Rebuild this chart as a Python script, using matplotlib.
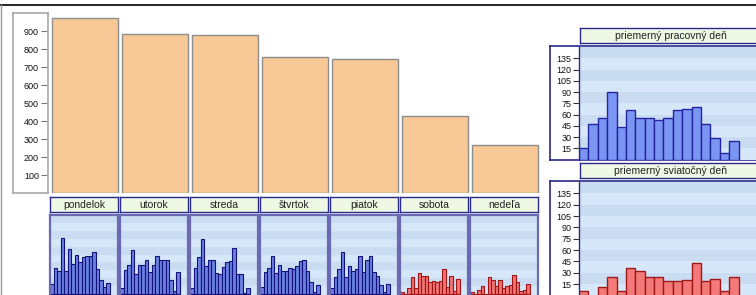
import matplotlib
matplotlib.use('Agg')
import matplotlib.pyplot as plt
from matplotlib.lines import Line2D

plt.rcParams['font.family'] = ['Liberation Sans', 'DejaVu Sans']

# data
dni = ['pondelok', 'utorok', 'streda', 'štvrtok', 'piatok', 'sobota', 'nedeľa']
spolu = [973, 882, 880, 754, 745, 429, 266]

pondelok = [18, 50, 44, 107, 44, 85, 57, 75, 61, 70, 72, 72, 79, 48, 26, 14, 20]
utorok = [12, 46, 56, 83, 38, 56, 56, 65, 41, 56, 72, 65, 65, 65, 26, 5, 41]
streda = [12, 50, 70, 104, 54, 65, 65, 40, 38, 52, 61, 63, 88, 38, 38, 1, 12]
stvrtok = [14, 41, 50, 72, 39, 56, 44, 44, 50, 48, 54, 63, 64, 43, 23, 3, 17]
piatok = [12, 32, 48, 79, 32, 54, 44, 48, 72, 41, 64, 73, 41, 34, 17, 3, 19]
sobota = [4, 0, 12, 32, 12, 40, 35, 34, 22, 24, 22, 24, 48, 14, 34, 6, 28]
nedela = [3, 0, 8, 15, 0, 33, 27, 15, 27, 12, 15, 16, 36, 23, 5, 7, 19]
hodiny_dni = [pondelok, utorok, streda, stvrtok, piatok, sobota, nedela]

pracovny = [16, 47, 55, 90, 44, 66, 56, 56, 53, 56, 66, 68, 70, 48, 29, 9, 25]
sviatocny = [6, 0, 11.5, 25, 6, 37, 32, 25, 25, 19.5, 19.5, 21, 43, 19.5, 22, 6, 25]

W, H = 756, 295
fig = plt.figure(figsize=(W/100, H/100), dpi=100)

def fr(x0, y0, x1, y1):
    return [x0/W, 1 - y1/H, (x1 - x0)/W, (y1 - y0)/H]

BORDER = '#2a2a8c'
ZELENA = '#eff8e4'

def pruhy(ax):
    ax.set_facecolor('#d6e7f9')
    for k in range(10):
        if k % 2 == 1:
            ax.axhspan(15*k, 15*k + 15, color='#cadcf1', lw=0, zorder=0)

def stitok(x0, y0, x1, y1, text):
    a = fig.add_axes(fr(x0, y0, x1, y1))
    a.set_facecolor(ZELENA)
    a.set_xticks([]); a.set_yticks([])
    for s in a.spines.values():
        s.set_color(BORDER); s.set_linewidth(1)
    a.text(0.5, 0.45, text, ha='center', va='center', fontsize=7.5,
           color='#222222', transform=a.transAxes)
    return a

# okraj
fig.add_artist(Line2D([0, 1], [1 - 5/H, 1 - 5/H], color='black', lw=1.2))
fig.add_artist(Line2D([0.5/W, 0.5/W], [0, 1 - 5/H], color='#999999', lw=1))

# os y hlavneho grafu
box = fig.add_axes(fr(13, 12.5, 48, 193))
box.set_facecolor('white')
box.set_xticks([])
box.set_ylim(0, 1003)
for s in ['top', 'right', 'bottom']:
    box.spines[s].set_color('#a0a0a0'); box.spines[s].set_linewidth(1.1)
box.spines['left'].set_position(('axes', 0.96))
box.spines['left'].set_visible(False)
box.add_line(Line2D([0, 0], [0, 1], transform=box.transAxes, color='#a0a0a0',
                    lw=1.1, clip_on=False))
box.set_yticks(range(100, 1000, 100))
box.tick_params(axis='y', length=4.5, width=0.8, color='#777777', pad=1,
                labelsize=6.5, labelcolor='#111111')

# hlavny stlpcovy graf
ax = fig.add_axes(fr(50, 12.5, 540, 193))
ax.bar(range(len(dni)), spolu, width=0.943, color='#f8c896', edgecolor='#8e8e8e', lw=1)
ax.set_xlim(-0.5, 6.5)
ax.set_ylim(0, 1003)
ax.axis('off')

# dni + male histogramy
for i, d in enumerate(dni):
    x0 = 50 + 70*i
    stitok(x0, 197, x0 + 68, 212, d)
    h = fig.add_axes(fr(x0, 215, x0 + 68, 297))
    pruhy(h)
    vikend = i >= 5
    h.bar(range(17), hodiny_dni[i], width=1, align='edge',
          color='#f07474' if vikend else '#6a80e0',
          edgecolor='#a01414' if vikend else '#12127a', lw=0.8, zorder=2)
    h.set_xlim(0, 19.4)
    h.set_ylim(-6, 150.5)
    h.set_xticks([]); h.set_yticks([])
    for s in h.spines.values():
        s.set_color('#6a6ab4'); s.set_linewidth(1.6)

# prave panely
def panel(y_title, y0, y1, ylo, hodnoty, farba, hrana, nazov):
    stitok(580, y_title, 762, y_title + 15, nazov)
    outer = fig.add_axes(fr(550, y0, 762, y1))
    outer.set_facecolor('white')
    outer.set_xticks([]); outer.set_yticks([])
    for s in outer.spines.values():
        s.set_color(BORDER); s.set_linewidth(1.2)
    p = fig.add_axes(fr(579, y0 + 1, 762, y1))
    pruhy(p)
    p.bar(range(17), hodnoty, width=1, align='edge', color=farba,
          edgecolor=hrana, lw=1, zorder=2)
    p.set_xlim(0, 19.5)
    p.set_ylim(ylo, 150)
    p.set_xticks([])
    p.set_yticks(range(15, 150, 15))
    p.tick_params(axis='y', length=4.5, width=0.8, color='#333333', pad=1,
                  labelsize=6.5, labelcolor='#111111')
    for s in ['top', 'right', 'bottom']:
        p.spines[s].set_visible(False)
    p.spines['left'].set_color(BORDER)
    p.spines['left'].set_linewidth(1)

panel(28, 46, 160, -0.5, pracovny, '#7b96f2', '#2424a0', 'priemerný pracovný deň')
panel(163, 181, 297, -1.9, sviatocny, '#f47a7a', '#a01818', 'priemerný sviatočný deň')

fig.savefig('out.png', dpi=100)
